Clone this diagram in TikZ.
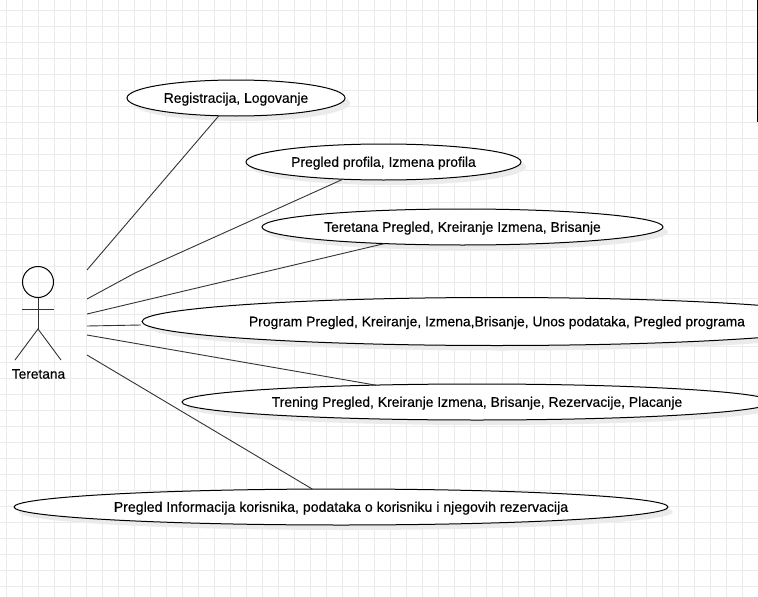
\documentclass[tikz,border=0pt]{standalone}
\usepackage{fontspec}
\setmainfont{Liberation Sans}[FakeBold=0.3]
\usetikzlibrary{shapes.geometric,shadows}
\definecolor{gridc}{HTML}{EBEBEB}
\definecolor{linec}{HTML}{333333}
\newcommand{\uctext}[1]{\raisebox{-4.8pt}[0pt][0pt]{#1}}
\tikzset{
  usecase/.style={ellipse,draw=black,line width=1pt,fill=white,inner sep=0pt,outer sep=0pt,
    font=\fontsize{13.9}{15}\selectfont,
    drop shadow={shadow xshift=5pt,shadow yshift=-5pt,fill=black!8,opacity=1}},
  assoc/.style={draw=linec,line width=0.9pt},
  limb/.style={draw=linec,line width=0.9pt},
  actorname/.style={inner sep=0pt,font=\fontsize{13.7}{15}\selectfont}
}
\begin{document}
\begin{tikzpicture}[x=1pt,y=-1pt]
\useasboundingbox (0,0) rectangle (758,597);
\clip (0,0) rectangle (758,597);
\fill[white] (0,0) rectangle (758,597);
% grid
\foreach \g in {0,...,47} \draw[gridc,line width=1pt] ({6.5+16*\g},0) -- ({6.5+16*\g},597);
\foreach \g in {0,...,37} \draw[gridc,line width=1pt] (0,{10.5+16*\g}) -- (758,{10.5+16*\g});
\fill[black] (756.5,0) rectangle (758,122);
% use cases
\node[usecase,minimum width=218pt,minimum height=36pt] (e1) at (236,98) {\uctext{Registracija, Logovanje}};
\node[usecase,minimum width=275pt,minimum height=36pt] (e2) at (383.5,162) {\uctext{Pregled profila, Izmena profila}};
\node[usecase,minimum width=401pt,minimum height=36pt] (e3) at (462.5,227) {\uctext{Teretana Pregled, Kreiranje Izmena, Brisanje}};
\node[usecase,minimum width=710pt,minimum height=48pt] (e4) at (497,321.5) {\uctext{Program Pregled, Kreiranje, Izmena,Brisanje, Unos podataka, Pregled programa}};
\node[usecase,minimum width=590pt,minimum height=36pt] (e5) at (477,402) {\uctext{Trening Pregled, Kreiranje Izmena, Brisanje, Rezervacije, Placanje}};
\node[usecase,minimum width=654pt,minimum height=36pt,font=\fontsize{14.12}{15}\selectfont] (e6) at (341,507) {\uctext{Pregled Informacija korisnika, podataka o korisniku i njegovih rezervacija}};
% actor
\node[circle,draw=black,line width=1pt,minimum size=31pt,inner sep=0pt,outer sep=0pt] (head) at (38,282) {};
\coordinate (hip) at (38,329);
\coordinate (armL) at (22,309.5);
\coordinate (armR) at (54,309.5);
\coordinate (legL) at (15,360);
\coordinate (legR) at (61,360);
\draw[limb] (head.south) -- (hip);
\draw[limb] (armL) -- (armR);
\draw[limb] (legL) -- (hip) -- (legR);
\node[actorname] (actorlabel) at (38.5,374) {Teretana};
% connector start points beside the actor
\coordinate (a1) at (87,270);
\coordinate (a2) at (87,299);
\coordinate (a3) at (87,314);
\coordinate (a4) at (87,326);
\coordinate (a5) at (87,335);
\coordinate (a6) at (87,355);
\coordinate (bend) at (135,273);
\draw[assoc] (a1) -- (e1.226.6);
\draw[assoc] (a2) -- (bend) -- (e2.203.5);
\draw[assoc] (a3) -- (e3.192.1);
\draw[assoc] (a4) -- ([xshift=-1pt,yshift=-3.5pt]e4.west);
\draw[assoc] (a5) -- ([xshift=5pt]e5.171.03);
\draw[assoc] (a6) -- (e6.148.3);
\end{tikzpicture}
\end{document}
